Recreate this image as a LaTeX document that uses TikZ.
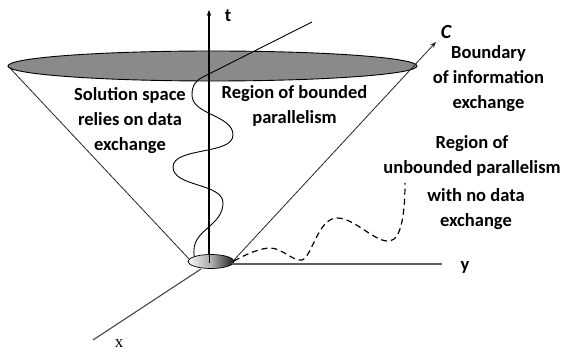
\documentclass[tikz,border=0pt]{standalone}
\usepackage{fontspec}
\setmainfont{Carlito}
\newfontfamily\xfont{Liberation Serif}
\usetikzlibrary{arrows.meta}
\definecolor{topgray}{RGB}{138,138,138}
\definecolor{axisgray}{RGB}{70,70,70}
\begin{document}
\begin{tikzpicture}[x=1pt,y=-1pt,
  lbl/.style={font=\bfseries\fontsize{18.5}{25}\selectfont, align=center, inner sep=0pt},
  axline/.style={line width=1.1pt, draw=axisgray},
  coneline/.style={line width=0.8pt, draw=black!85},
  tip/.style={-{Stealth[length=6pt,width=4.5pt]}}]
\useasboundingbox (0,0) rectangle (563,352);
% points
\coordinate (TL) at (8,66);
\coordinate (TR) at (417,66);
\coordinate (OL) at (190,260);
\coordinate (OR) at (234,260);
\coordinate (Ctip) at (436,42);
\coordinate (tBot) at (209,263);
\coordinate (tTop) at (209,10);
\coordinate (yStart) at (232,264);
\coordinate (yEnd) at (442,264);
\coordinate (xStart) at (201,269);
\coordinate (xEnd) at (93,340);
\coordinate (wStart) at (198,262);
\coordinate (wJoin) at (203,77);
\coordinate (wEnd) at (312,22);
\coordinate (dStart) at (234,261);
\coordinate (dEnd) at (405,183);
% cone sides
\draw[coneline] (TL) -- (OL);
% top ellipse
\draw[line width=0.9pt, fill=topgray] (212.5,66) ellipse [x radius=204.5pt, y radius=15pt];
\draw[coneline, tip] (OR) -- (Ctip);
% t axis
\draw[axline, draw=black, tip] (tBot) -- (tTop);
% world line: wave then straight
\draw[line width=0.9pt] (wStart) .. controls (193,258) and (194,254) .. (194,250)
  .. controls (194,230) and (223,225) .. (223,203)
  .. controls (223,183) and (173,187) .. (173,167)
  .. controls (173,147) and (233,155) .. (233,135)
  .. controls (233,115) and (192,115) .. (192,95)
  .. controls (192,85) and (196,80.5) .. (wJoin) -- (wEnd);
% origin ellipse
\begin{scope}
  \clip (211,261.5) ellipse [x radius=23pt, y radius=7pt];
  \shade[left color=gray!5, right color=gray!65] (188,250) rectangle (209.5,272);
  \shade[left color=gray!55, right color=black!90] (209.5,250) rectangle (235,272);
\end{scope}
\draw[line width=0.7pt] (211,261.5) ellipse [x radius=23pt, y radius=7pt];
\draw[line width=0.9pt] (tBot) -- (209,255);
% x and y axes
\draw[axline] (xStart) -- (xEnd);
\draw[axline, line width=1.5pt, draw=gray!75!black] (yStart) -- (yEnd);
% dashed curve
\draw[line width=1.2pt, dash pattern=on 6pt off 4pt] (dStart)
  .. controls (248,253) and (262,248) .. (270,248)
  .. controls (282,248) and (294,262) .. (302,260)
  .. controls (312,257) and (318,218) .. (337,218)
  .. controls (355,218) and (375,243) .. (390,241)
  .. controls (402,239) and (405,210) .. (dEnd);
% labels
\node[lbl] (tlab) at (228,16) {t};
\node[lbl] (ylab) at (465,267) {y};
\node[inner sep=0pt, font=\xfont\fontsize{17}{20}\selectfont] (xlab) at (119,344) {x};
\node[lbl, font=\bfseries\itshape\fontsize{20}{25}\selectfont] (clab) at (446,32) {C};
\node[lbl] (sol) at (130,121) {Solution space\\relies on data\\exchange};
\node[lbl] (bounded) at (294.5,105.5) {Region of bounded\\parallelism};
\node[lbl] (boundary) at (488.5,78.5) {Boundary\\of information\\exchange};
\node[lbl] (unb) at (472,155.5) {Region of\\unbounded parallelism};
\node[lbl] (nodata) at (476,209) {with no data\\exchange};
\end{tikzpicture}
\end{document}
